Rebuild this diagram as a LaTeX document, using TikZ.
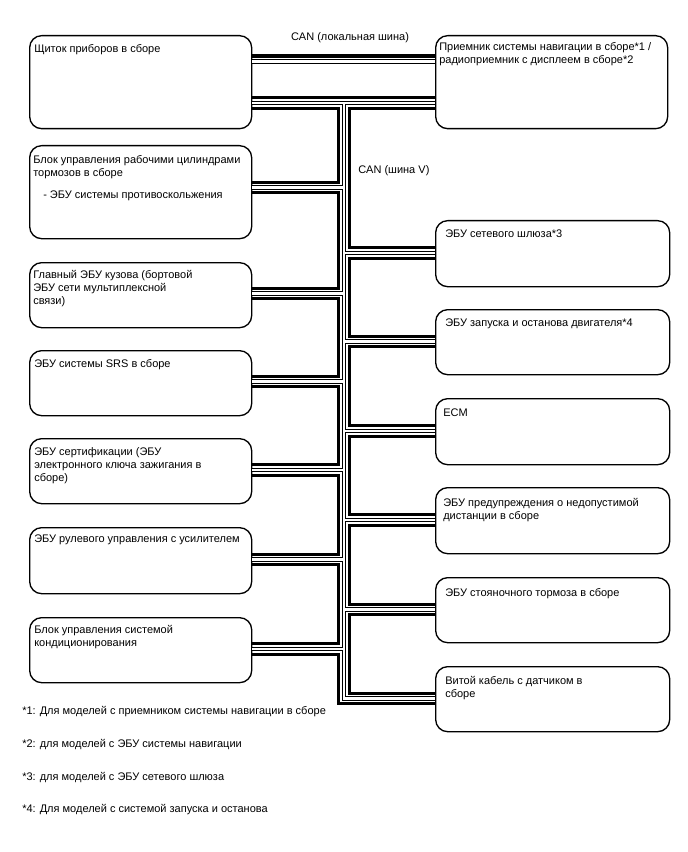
\documentclass[tikz,border=0pt]{standalone}
\usepackage{fontspec}
\setmainfont{Liberation Sans}
\usepackage{tikz}
\usetikzlibrary{positioning,calc}
\tikzset{
  ecu/.style={draw,line width=1pt,rounded corners=9pt,inner sep=0pt,anchor=north west},
  lbl/.style={font=\fontsize{8.25}{9.75}\selectfont,align=left,inner sep=0pt,anchor=north west},
  note/.style={font=\fontsize{8.25}{9.75}\selectfont,inner sep=0pt,anchor=base west},
  wirethick/.style={line width=2.6pt},
  wireout/.style={line width=3.5pt},
  wirein/.style={white,line width=1.9pt}}
\newcommand{\ecubox}[7][5,9]{%
  \node[ecu,minimum width=#5*0.75pt,minimum height=#6*0.75pt] (#2) at (#3,#4) {};
  \node[lbl] (#2t) at ($(#2.north west)+(#1)$) {#7};}
\newcommand{\chain}[5]{%
  \draw[wirethick] ($(#1V)+(0,#4)$) -| ($(#3 |- #2V)+(0,#5)$) -- ($(#2V)+(0,#5)$);}

\begin{document}
\begin{tikzpicture}[x=0.75pt,y=-0.75pt]
  \useasboundingbox (0,0) rectangle (688,852);
  \ecubox{cluster}{29}{35}{222}{93}{Щиток приборов в сборе}
  \ecubox[4,10]{brake}{29}{145}{222}{93}{Блок управления рабочими цилиндрами\\тормозов в сборе\\[6.75pt]\hspace*{7.5pt}- ЭБУ системы противоскольжения}
  \ecubox[4,8]{body}{29}{262}{222}{65}{Главный ЭБУ кузова (бортовой\\ЭБУ сети мультиплексной\\связи)}
  \ecubox{srs}{29}{350}{222}{65}{ЭБУ системы SRS в сборе}
  \ecubox{cert}{29}{438}{222}{65}{ЭБУ сертификации (ЭБУ\\электронного ключа зажигания в\\сборе)}
  \ecubox[5,8]{eps}{29}{527}{222}{66}{ЭБУ рулевого управления с усилителем}
  \ecubox[5,8]{ac}{29}{617}{222}{65}{Блок управления системой\\кондиционирования}
  \ecubox[4,7]{nav}{435}{35}{232}{93}{Приемник системы навигации в сборе*1 /\\радиоприемник с дисплеем в сборе*2}
  \ecubox[10,10]{gw}{435}{220}{234}{66}{ЭБУ сетевого шлюза*3}
  \ecubox[10,10]{eng}{435}{309}{234}{65}{ЭБУ запуска и останова двигателя*4}
  \ecubox[8,11]{ecm}{435}{398}{234}{66}{ECM}
  \ecubox[8,11]{pcs}{435}{487}{234}{66}{ЭБУ предупреждения о недопустимой\\дистанции в сборе}
  \ecubox[10,11]{epb}{435}{577}{234}{65}{ЭБУ стояночного тормоза в сборе}
  \ecubox[10,10]{spiral}{435}{666}{234}{65}{Витой кабель с датчиком в\\сборе}

  \node[lbl,anchor=base] (lcan) at (350,40.5) {CAN (локальная шина)};
  \node[lbl,anchor=base west] (vcan) at (358,173.5) {CAN (шина V)};

  \coordinate (xl) at (338.75,0);
  \coordinate (xo) at (344,0);
  \coordinate (xr) at (349.25,0);
  \coordinate (clusterC) at (cluster.east |- 0,61.25);
  \coordinate (navC) at (nav.west |- 0,61.25);
  \coordinate (clusterV) at (cluster.east |- 0,103);
  \coordinate (navV) at (nav.west |- 0,103);
  \coordinate (brakeV) at (brake.east |- 0,187.5);
  \coordinate (bodyV) at (body.east |- 0,293.5);
  \coordinate (srsV) at (srs.east |- 0,381.5);
  \coordinate (certV) at (cert.east |- 0,470);
  \coordinate (epsV) at (eps.east |- 0,559.5);
  \coordinate (acV) at (ac.east |- 0,649);
  \coordinate (gwV) at (gw.west |- 0,253);
  \coordinate (engV) at (eng.west |- 0,341.5);
  \coordinate (ecmV) at (ecm.west |- 0,431);
  \coordinate (pcsV) at (pcs.west |- 0,520);
  \coordinate (epbV) at (epb.west |- 0,609.5);
  \coordinate (spiralV) at (spiral.west |- 0,698.5);

  \foreach \w in {wireout,wirein}{
    \draw[\w] (clusterC) -- (navC);
    \draw[\w] (clusterV) -- (navV);
    \draw[\w] (xo |- clusterV) -- (xo |- spiralV) -- (spiralV);
    \foreach \b in {brake,body,srs,cert,eps,ac,gw,eng,ecm,pcs,epb}
      \draw[\w] (\b V) -- (xo |- \b V);
  }
  \draw[wirethick] ($(clusterC)+(0,-5.25)$) -- ($(navC)+(0,-5.25)$);
  \draw[wirethick] ($(clusterV)+(0,-5.25)$) -- ($(navV)+(0,-5.25)$);
  \chain{cluster}{brake}{xl}{5.25}{-5.25}
  \chain{brake}{body}{xl}{5.25}{-5.25}
  \chain{body}{srs}{xl}{5.25}{-5.25}
  \chain{srs}{cert}{xl}{5.25}{-5.25}
  \chain{cert}{eps}{xl}{5.25}{-5.25}
  \chain{eps}{ac}{xl}{5.25}{-5.25}
  \chain{ac}{spiral}{xl}{5.25}{5.25}
  \chain{nav}{gw}{xr}{5.25}{-5.25}
  \chain{gw}{eng}{xr}{5.25}{-5.25}
  \chain{eng}{ecm}{xr}{5.25}{-5.25}
  \chain{ecm}{pcs}{xr}{5.25}{-5.25}
  \chain{pcs}{epb}{xr}{5.25}{-5.25}
  \chain{epb}{spiral}{xr}{5.25}{-5.25}

  \node[note] (n1) at (22,714) {*1: Для моделей с приемником системы навигации в сборе};
  \node[note] (n2) at (22,747) {*2: для моделей с ЭБУ системы навигации};
  \node[note] (n3) at (22,780) {*3: для моделей с ЭБУ сетевого шлюза};
  \node[note] (n4) at (22,812) {*4: Для моделей с системой запуска и останова};
\end{tikzpicture}
\end{document}
